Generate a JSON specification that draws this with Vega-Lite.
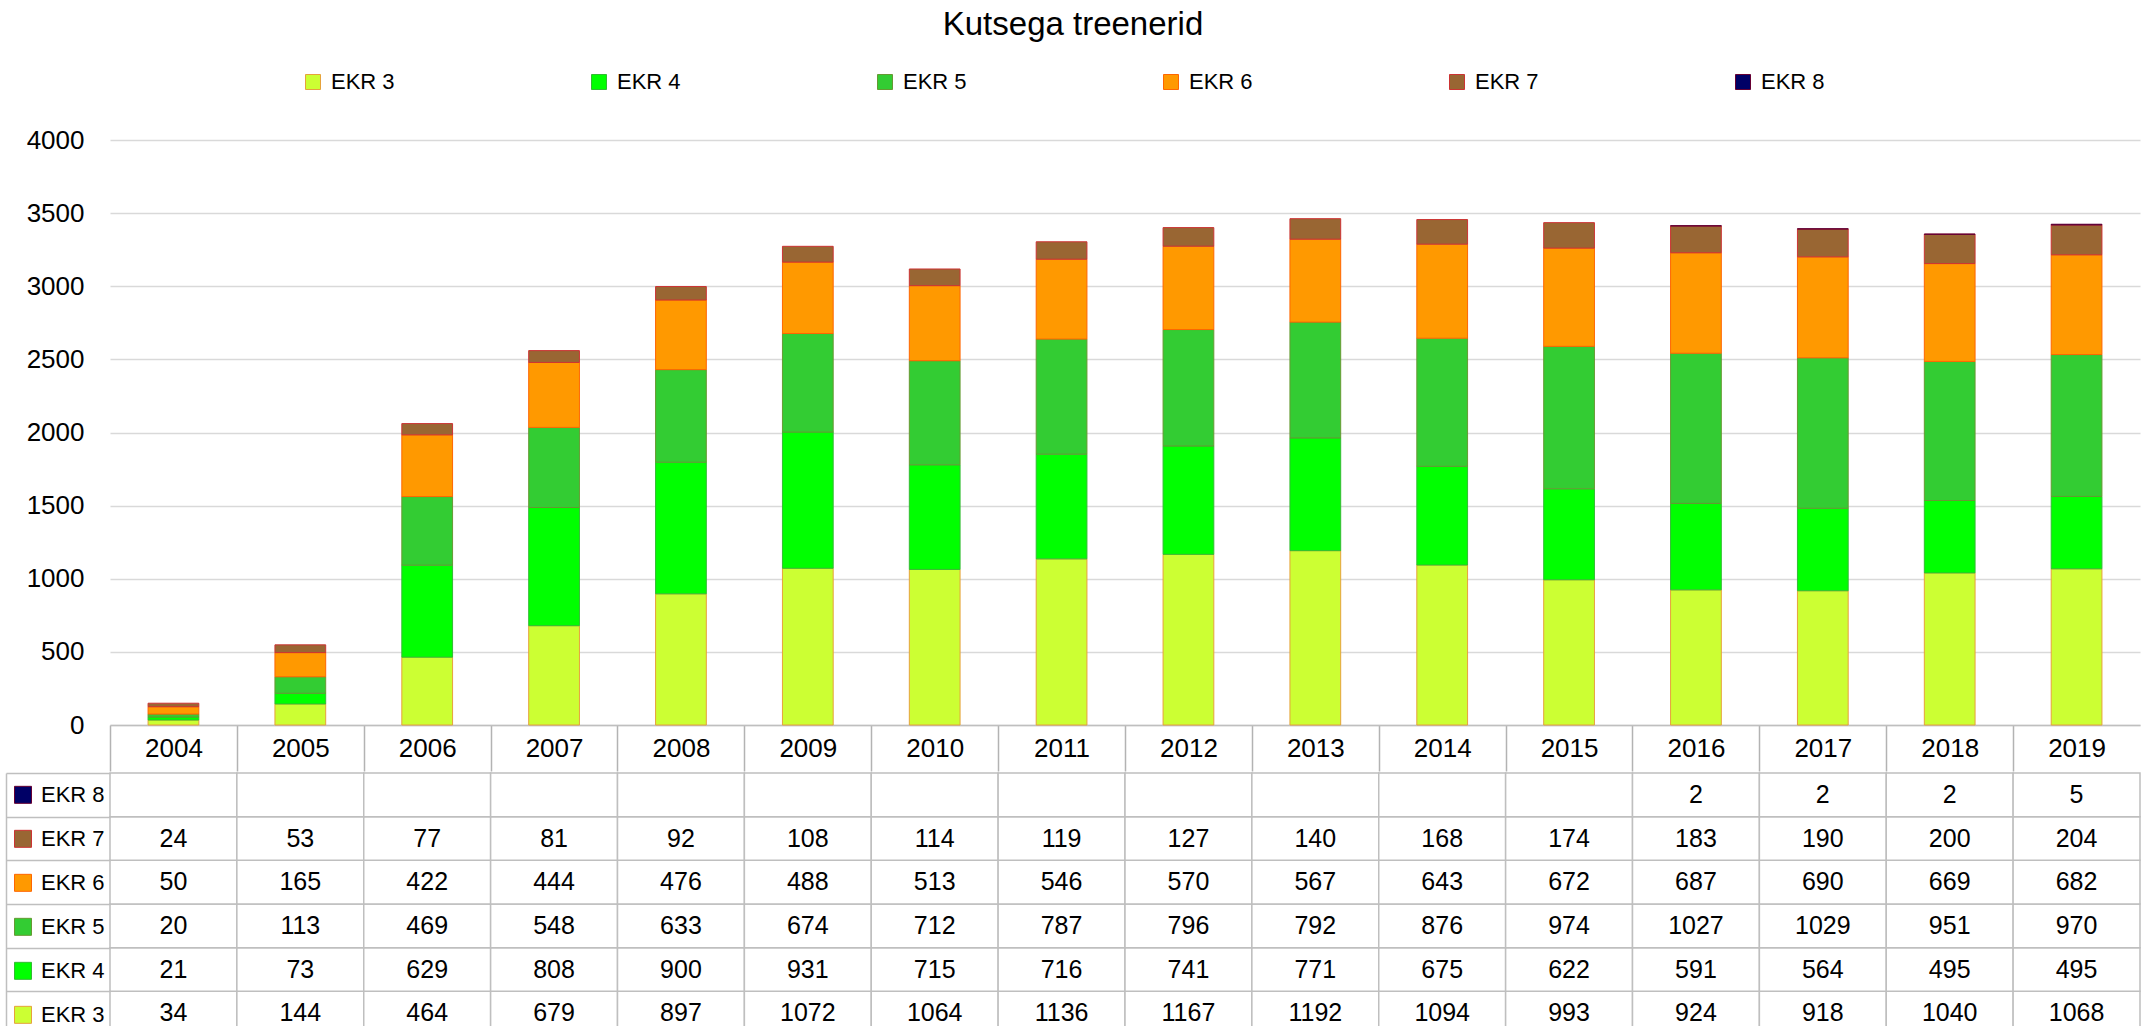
{
  "$schema": "https://vega.github.io/schema/vega-lite/v6.json",
  "padding": {"left": 5, "top": 9, "right": 0, "bottom": 0},
  "background": "white",
  "config": {
    "font": "Liberation Sans",
    "view": {"stroke": null},
    "axis": {"labelColor": "#000000", "labelFont": "Liberation Sans"},
    "legend": {"labelColor": "#000000", "labelFont": "Liberation Sans"}
  },
  "title": {"text": "Kutsega treenerid", "fontSize": 33, "fontWeight": "normal", "font": "Liberation Sans", "color": "#000000", "anchor": "middle", "offset": 29},
  "data": {"values": [
    {"year": "2004", "series": "EKR 3", "value": 34},
    {"year": "2005", "series": "EKR 3", "value": 144},
    {"year": "2006", "series": "EKR 3", "value": 464},
    {"year": "2007", "series": "EKR 3", "value": 679},
    {"year": "2008", "series": "EKR 3", "value": 897},
    {"year": "2009", "series": "EKR 3", "value": 1072},
    {"year": "2010", "series": "EKR 3", "value": 1064},
    {"year": "2011", "series": "EKR 3", "value": 1136},
    {"year": "2012", "series": "EKR 3", "value": 1167},
    {"year": "2013", "series": "EKR 3", "value": 1192},
    {"year": "2014", "series": "EKR 3", "value": 1094},
    {"year": "2015", "series": "EKR 3", "value": 993},
    {"year": "2016", "series": "EKR 3", "value": 924},
    {"year": "2017", "series": "EKR 3", "value": 918},
    {"year": "2018", "series": "EKR 3", "value": 1040},
    {"year": "2019", "series": "EKR 3", "value": 1068},
    {"year": "2004", "series": "EKR 4", "value": 21},
    {"year": "2005", "series": "EKR 4", "value": 73},
    {"year": "2006", "series": "EKR 4", "value": 629},
    {"year": "2007", "series": "EKR 4", "value": 808},
    {"year": "2008", "series": "EKR 4", "value": 900},
    {"year": "2009", "series": "EKR 4", "value": 931},
    {"year": "2010", "series": "EKR 4", "value": 715},
    {"year": "2011", "series": "EKR 4", "value": 716},
    {"year": "2012", "series": "EKR 4", "value": 741},
    {"year": "2013", "series": "EKR 4", "value": 771},
    {"year": "2014", "series": "EKR 4", "value": 675},
    {"year": "2015", "series": "EKR 4", "value": 622},
    {"year": "2016", "series": "EKR 4", "value": 591},
    {"year": "2017", "series": "EKR 4", "value": 564},
    {"year": "2018", "series": "EKR 4", "value": 495},
    {"year": "2019", "series": "EKR 4", "value": 495},
    {"year": "2004", "series": "EKR 5", "value": 20},
    {"year": "2005", "series": "EKR 5", "value": 113},
    {"year": "2006", "series": "EKR 5", "value": 469},
    {"year": "2007", "series": "EKR 5", "value": 548},
    {"year": "2008", "series": "EKR 5", "value": 633},
    {"year": "2009", "series": "EKR 5", "value": 674},
    {"year": "2010", "series": "EKR 5", "value": 712},
    {"year": "2011", "series": "EKR 5", "value": 787},
    {"year": "2012", "series": "EKR 5", "value": 796},
    {"year": "2013", "series": "EKR 5", "value": 792},
    {"year": "2014", "series": "EKR 5", "value": 876},
    {"year": "2015", "series": "EKR 5", "value": 974},
    {"year": "2016", "series": "EKR 5", "value": 1027},
    {"year": "2017", "series": "EKR 5", "value": 1029},
    {"year": "2018", "series": "EKR 5", "value": 951},
    {"year": "2019", "series": "EKR 5", "value": 970},
    {"year": "2004", "series": "EKR 6", "value": 50},
    {"year": "2005", "series": "EKR 6", "value": 165},
    {"year": "2006", "series": "EKR 6", "value": 422},
    {"year": "2007", "series": "EKR 6", "value": 444},
    {"year": "2008", "series": "EKR 6", "value": 476},
    {"year": "2009", "series": "EKR 6", "value": 488},
    {"year": "2010", "series": "EKR 6", "value": 513},
    {"year": "2011", "series": "EKR 6", "value": 546},
    {"year": "2012", "series": "EKR 6", "value": 570},
    {"year": "2013", "series": "EKR 6", "value": 567},
    {"year": "2014", "series": "EKR 6", "value": 643},
    {"year": "2015", "series": "EKR 6", "value": 672},
    {"year": "2016", "series": "EKR 6", "value": 687},
    {"year": "2017", "series": "EKR 6", "value": 690},
    {"year": "2018", "series": "EKR 6", "value": 669},
    {"year": "2019", "series": "EKR 6", "value": 682},
    {"year": "2004", "series": "EKR 7", "value": 24},
    {"year": "2005", "series": "EKR 7", "value": 53},
    {"year": "2006", "series": "EKR 7", "value": 77},
    {"year": "2007", "series": "EKR 7", "value": 81},
    {"year": "2008", "series": "EKR 7", "value": 92},
    {"year": "2009", "series": "EKR 7", "value": 108},
    {"year": "2010", "series": "EKR 7", "value": 114},
    {"year": "2011", "series": "EKR 7", "value": 119},
    {"year": "2012", "series": "EKR 7", "value": 127},
    {"year": "2013", "series": "EKR 7", "value": 140},
    {"year": "2014", "series": "EKR 7", "value": 168},
    {"year": "2015", "series": "EKR 7", "value": 174},
    {"year": "2016", "series": "EKR 7", "value": 183},
    {"year": "2017", "series": "EKR 7", "value": 190},
    {"year": "2018", "series": "EKR 7", "value": 200},
    {"year": "2019", "series": "EKR 7", "value": 204},
    {"year": "2004", "series": "EKR 8", "value": null},
    {"year": "2005", "series": "EKR 8", "value": null},
    {"year": "2006", "series": "EKR 8", "value": null},
    {"year": "2007", "series": "EKR 8", "value": null},
    {"year": "2008", "series": "EKR 8", "value": null},
    {"year": "2009", "series": "EKR 8", "value": null},
    {"year": "2010", "series": "EKR 8", "value": null},
    {"year": "2011", "series": "EKR 8", "value": null},
    {"year": "2012", "series": "EKR 8", "value": null},
    {"year": "2013", "series": "EKR 8", "value": null},
    {"year": "2014", "series": "EKR 8", "value": null},
    {"year": "2015", "series": "EKR 8", "value": null},
    {"year": "2016", "series": "EKR 8", "value": 2},
    {"year": "2017", "series": "EKR 8", "value": 2},
    {"year": "2018", "series": "EKR 8", "value": 2},
    {"year": "2019", "series": "EKR 8", "value": 5}
  ]},
  "spacing": 0,
  "resolve": {
    "scale": {"color": "independent", "stroke": "independent", "x": "independent", "y": "independent"},
    "legend": {"color": "independent", "stroke": "independent"}
  },
  "vconcat": [
    {
      "width": 2030,
      "height": 585,
      "view": {"stroke": null},
      "transform": [{"filter": "isValid(datum.value)"}],
      "mark": {"type": "bar", "strokeWidth": 1},
      "encoding": {
        "x": {
          "field": "year", "type": "nominal",
          "scale": {"paddingInner": 0.6, "paddingOuter": 0.3},
          "axis": {"title": null, "labelAngle": 0, "labelFontSize": 26, "labelBaseline": "middle", "labelAlign": "center", "labelPadding": -23,
                   "domain": true, "domainColor": "#bfbfbf", "domainWidth": 1.5, "ticks": true, "tickColor": "#b3b3b3", "tickWidth": 1.5,
                   "tickOpacity": 1, "tickSize": 46, "tickOffset": -63.44, "labelOffset": 63.44, "grid": false}
        },
        "y": {
          "field": "value", "type": "quantitative", "stack": "zero",
          "scale": {"domain": [0, 4000], "nice": false},
          "axis": {"title": null, "format": "d", "values": [0, 500, 1000, 1500, 2000, 2500, 3000, 3500, 4000], "labelFontSize": 26,
                   "labelPadding": 26, "ticks": false, "domain": false, "gridColor": "#d9d9d9", "gridWidth": 1.5}
        },
        "order": {"field": "series", "type": "nominal", "sort": "ascending"},
        "color": {
          "field": "series", "type": "nominal",
          "scale": {"domain": ["EKR 3", "EKR 4", "EKR 5", "EKR 6", "EKR 7", "EKR 8"],
                    "range": ["#ccff33", "#00ff00", "#33cc33", "#ff9900", "#996633", "#000066"]},
          "legend": {"orient": "none", "legendX": 192, "legendY": -69, "direction": "horizontal", "title": null,
                     "symbolType": "square", "symbolSize": 225, "symbolStrokeWidth": 1, "labelFontSize": 22,
                     "labelOffset": 7, "columnPadding": 193}
        },
        "stroke": {
          "field": "series", "type": "nominal",
          "scale": {"domain": ["EKR 3", "EKR 4", "EKR 5", "EKR 6", "EKR 7", "EKR 8"],
                    "range": ["#e6a23c", "#33bb33", "#669933", "#ff6600", "#cc3333", "#660033"]},
          "legend": {"orient": "none", "legendX": 192, "legendY": -69, "direction": "horizontal", "title": null,
                     "symbolType": "square", "symbolSize": 225, "symbolStrokeWidth": 1, "labelFontSize": 22,
                     "labelOffset": 7, "columnPadding": 193}
        }
      }
    },
    {
      "width": 2030,
      "height": 262,
      "view": {"stroke": null},
      "layer": [
        {
          "mark": {"type": "rect", "fill": "white", "stroke": "#bfbfbf", "strokeWidth": 1.5},
          "encoding": {
            "x": {"field": "year", "type": "nominal", "scale": {"paddingInner": 0, "paddingOuter": 0}, "axis": null},
            "y": {"field": "series", "type": "nominal",
                  "scale": {"domain": ["EKR 8", "EKR 7", "EKR 6", "EKR 5", "EKR 4", "EKR 3"], "paddingInner": 0, "paddingOuter": 0},
                  "axis": {"title": null, "labels": false, "grid": false, "domainColor": "#bfbfbf", "domainWidth": 1.5,
                           "tickColor": "#bfbfbf", "tickWidth": 1.5, "tickSize": -104, "tickBand": "extent", "offset": 104}}
          }
        },
        {
          "transform": [{"filter": "isValid(datum.value)"}],
          "mark": {"type": "text", "fontSize": 25, "font": "Liberation Sans", "color": "#000000", "baseline": "middle", "align": "center"},
          "encoding": {
            "x": {"field": "year", "type": "nominal"},
            "y": {"field": "series", "type": "nominal"},
            "text": {"field": "value", "type": "nominal"}
          }
        },
        {
          "mark": {"type": "square", "opacity": 0},
          "encoding": {
            "y": {"field": "series", "type": "nominal"},
            "color": {
              "field": "series", "type": "nominal",
              "scale": {"domain": ["EKR 8", "EKR 7", "EKR 6", "EKR 5", "EKR 4", "EKR 3"],
                        "range": ["#000066", "#996633", "#ff9900", "#33cc33", "#00ff00", "#ccff33"]},
              "legend": {"orient": "none", "legendX": -98, "legendY": 0, "direction": "vertical", "title": null,
                         "symbolType": "square", "symbolSize": 289, "symbolOpacity": 1, "symbolStrokeWidth": 1,
                         "labelFontSize": 22, "labelOffset": 7, "clipHeight": 43.667, "rowPadding": 0}
            },
            "stroke": {
              "field": "series", "type": "nominal",
              "scale": {"domain": ["EKR 8", "EKR 7", "EKR 6", "EKR 5", "EKR 4", "EKR 3"],
                        "range": ["#660033", "#cc3333", "#ff6600", "#669933", "#33bb33", "#e6a23c"]},
              "legend": {"orient": "none", "legendX": -98, "legendY": 0, "direction": "vertical", "title": null,
                         "symbolType": "square", "symbolSize": 289, "symbolOpacity": 1, "symbolStrokeWidth": 1,
                         "labelFontSize": 22, "labelOffset": 7, "clipHeight": 43.667, "rowPadding": 0}
            }
          }
        }
      ]
    }
  ]
}
